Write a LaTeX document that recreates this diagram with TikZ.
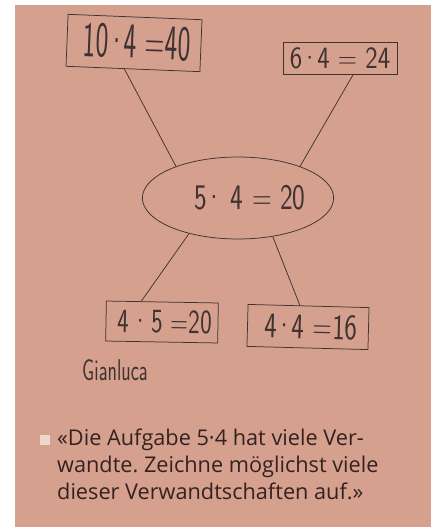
\documentclass[tikz,border=0pt]{standalone}
\usepackage{fontspec}
\usepackage{graphicx}
\setmainfont{Open Sans}
\usetikzlibrary{shapes.geometric}
\definecolor{paper}{RGB}{214,160,142}
\definecolor{pen}{RGB}{62,50,50}
\definecolor{ink}{RGB}{52,34,32}
\definecolor{bulletc}{RGB}{238,216,206}
\newcommand\hwtext[3]{\fontsize{#1}{#1}\selectfont\scalebox{#2}[1]{#3}}
\newcommand\hdot{\kern-0.08em·\kern-0.08em}
\frenchspacing
\begin{document}
\begin{tikzpicture}[x=1pt,y=-1pt,
  handbox/.style={draw=pen, line width=0.75pt, rectangle, inner sep=0pt, text=pen, font=\sffamily},
  handoval/.style={draw=pen, line width=0.75pt, ellipse, inner sep=0pt, text=pen, font=\sffamily},
  handline/.style={draw=pen, line width=0.75pt},
  captext/.style={anchor=base west, text=ink, inner sep=0pt, font=\fontsize{21.7}{27}\selectfont}]
\useasboundingbox (0,0) rectangle (437,529);
\fill[paper] (15,5) rectangle (431,527);
% hand-drawn equations
\node[handbox, minimum width=134pt, minimum height=52pt, rotate=-2.3] (b1) at (134,43)
  {\raisebox{3pt}{\hspace*{6pt}\hwtext{50}{0.54}{10\hdot4 =40}}};
\node[handbox, minimum width=114pt, minimum height=32pt] (b2) at (340,58)
  {\hwtext{31}{0.85}{6\hdot4 = 24}};
\node[handoval, minimum width=168pt, minimum height=82pt] (e) at (238,198)
  {\raisebox{-9pt}{\hspace*{24pt}\hwtext{36}{0.75}{5\hdot\ 4 = 20}}};
\node[handbox, minimum width=112pt, minimum height=40pt, rotate=-1] (b3) at (162,322)
  {\hspace*{6pt}\hwtext{34}{0.72}{4\,\hdot\,5 =20}};
\node[handbox, minimum width=121pt, minimum height=42pt, rotate=-1.5] (b4) at (308,327)
  {\hspace*{6pt}\hwtext{36}{0.74}{4\hdot4 =16}};
\node[anchor=west, inner sep=0pt, text=pen, font=\sffamily] (name) at (82,370)
  {\hwtext{30}{0.65}{Gianluca}};
% connectors
\draw[handline] (b1.252.8) -- (e.153.8);
\draw[handline] (b2.-51.7) -- (e.27);
\draw[handline] (e.216) -- (b3.136.3);
\draw[handline] (e.312) -- (b4.112);
% caption
\fill[bulletc] (40,435) rectangle (50,445);
\node[captext] (cap1) at (57,445) {«Die Aufgabe 5·4 hat viele Ver-};
\node[captext] (cap2) at (57,472) {wandte. Zeichne möglichst viele};
\node[captext] (cap3) at (57,499) {dieser Verwandtschaften auf.»};
\end{tikzpicture}
\end{document}
